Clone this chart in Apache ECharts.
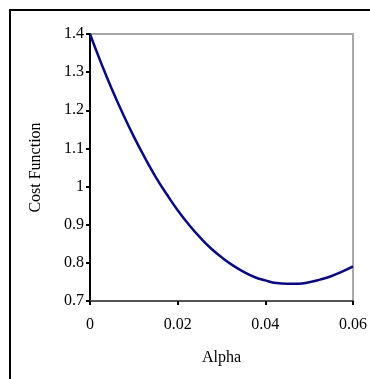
<!DOCTYPE html>
<html>
<head>
<meta charset="utf-8">
<script src="https://cdn.jsdelivr.net/npm/echarts@6/dist/echarts.min.js"></script>
<style>html,body{margin:0;padding:0;background:#fff;}#c{width:370px;height:379px;}</style>
</head>
<body>
<div id="c"></div>
<script>
const alphaValues = [0, 0.0025, 0.005, 0.0075, 0.01, 0.0125, 0.015, 0.0175, 0.02, 0.0225, 0.025, 0.0275, 0.03, 0.0325, 0.035, 0.0375, 0.04, 0.0425, 0.045, 0.0475, 0.05, 0.0525, 0.055, 0.0575, 0.06];
const costValues = [1.400, 1.325, 1.255, 1.191, 1.131, 1.076, 1.025, 0.980, 0.938, 0.901, 0.868, 0.839, 0.815, 0.794, 0.777, 0.763, 0.754, 0.747, 0.745, 0.745, 0.749, 0.756, 0.765, 0.777, 0.791];
const xTicks = [0, 0.02, 0.04, 0.06];
const yTicks = [0.7, 0.8, 0.9, 1, 1.1, 1.2, 1.3, 1.4];

const font = '"Liberation Serif", "Times New Roman", serif';
const chart = echarts.init(document.getElementById('c'), null, {renderer: 'canvas'});
chart.setOption({
  animation: false,
  backgroundColor: '#fff',
  graphic: [{
    type: 'rect', shape: {x: 10, y: 10, width: 420, height: 420},
    style: {fill: 'none', stroke: '#000', lineWidth: 2}, z: 100
  }],
  grid: {left: 90, top: 34, width: 264, height: 267, show: true, borderColor: '#a8a8a8', borderWidth: 2, backgroundColor: 'transparent'},
  xAxis: {
    type: 'value', min: 0, max: 0.06, interval: 0.02,
    name: 'Alpha', nameLocation: 'middle', nameGap: 49,
    nameTextStyle: {fontFamily: font, fontSize: 16, color: '#000'},
    axisLine: {show: true, onZero: false, lineStyle: {color: '#555', width: 2}},
    axisTick: {show: true, length: 4, lineStyle: {color: '#000', width: 2}},
    splitLine: {show: false},
    axisLabel: {fontFamily: font, fontSize: 16, color: '#000', margin: 16,
      formatter: v => xTicks.includes(+v.toFixed(4)) ? String(+v.toFixed(4)) : ''}
  },
  yAxis: {
    type: 'value', min: 0.7, max: 1.4, interval: 0.1,
    name: 'Cost Function', nameLocation: 'middle', nameGap: 46, nameRotate: 90,
    nameTextStyle: {fontFamily: font, fontSize: 16, color: '#000'},
    axisLine: {show: true, lineStyle: {color: '#000', width: 2}},
    axisTick: {show: true, length: 4, lineStyle: {color: '#000', width: 2}},
    splitLine: {show: false},
    axisLabel: {fontFamily: font, fontSize: 16, color: '#000', margin: 6,
      formatter: v => { const r = +v.toFixed(1); return yTicks.includes(r) ? String(r) : ''; }}
  },
  series: [{
    type: 'line', smooth: true, showSymbol: false,
    data: alphaValues.map((a, i) => [a, costValues[i]]),
    lineStyle: {color: '#0a0a80', width: 2.5}
  }]
});
</script>
</body>
</html>
